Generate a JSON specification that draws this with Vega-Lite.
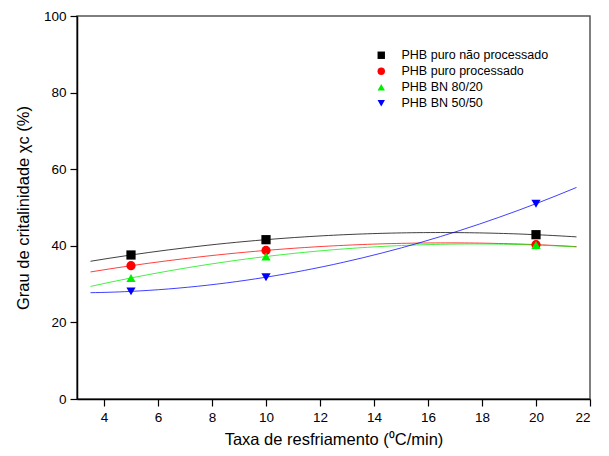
{
  "$schema": "https://vega.github.io/schema/vega-lite/v6.json",
  "width": 513,
  "height": 383,
  "autosize": {"type": "none"},
  "padding": {"left": 77, "top": 16, "right": 19, "bottom": 57},
  "background": "white",
  "config": {
    "view": {"stroke": "#555555", "strokeWidth": 1.5},
    "font": "Liberation Sans"
  },
  "data": {
    "values": [
      {"series": "PHB puro não processado", "x": 5, "y": 37.6},
      {"series": "PHB puro não processado", "x": 10, "y": 41.6},
      {"series": "PHB puro não processado", "x": 20, "y": 42.9},
      {"series": "PHB puro processado", "x": 5, "y": 34.8},
      {"series": "PHB puro processado", "x": 10, "y": 38.8},
      {"series": "PHB puro processado", "x": 20, "y": 40.3},
      {"series": "PHB BN 80/20", "x": 5, "y": 31.6},
      {"series": "PHB BN 80/20", "x": 10, "y": 37.2},
      {"series": "PHB BN 80/20", "x": 20, "y": 40.2},
      {"series": "PHB BN 50/50", "x": 5, "y": 28.1},
      {"series": "PHB BN 50/50", "x": 10, "y": 31.8},
      {"series": "PHB BN 50/50", "x": 20, "y": 51.0}
    ]
  },
  "layer": [
    {
      "transform": [
        {"regression": "y", "on": "x", "groupby": ["series"], "method": "poly", "order": 2, "extent": [3.5, 21.5]}
      ],
      "mark": {"type": "line", "strokeWidth": 1, "strokeOpacity": 0.75},
      "encoding": {
        "x": {"field": "x", "type": "quantitative"},
        "y": {"field": "y", "type": "quantitative"},
        "detail": {"field": "series"},
        "color": {"field": "series", "type": "nominal"}
      }
    },
    {
      "mark": {"type": "point", "filled": true, "opacity": 1, "size": 85},
      "encoding": {
        "x": {
          "field": "x", "type": "quantitative",
          "scale": {"domain": [3, 22], "nice": false, "zero": false},
          "axis": {
            "values": [4,5,6,7,8,9,10,11,12,13,14,15,16,17,18,19,20,21,22],
            "labelExpr": "datum.value % 2 == 0 ? datum.label : ''",
            "tickSize": {"condition": {"test": "datum.value % 2 == 0", "value": 7}, "value": 4},
            "grid": false,
            "domainColor": "black",
            "domainWidth": 1.5,
            "tickColor": "black",
            "tickWidth": 1.2,
            "labelFontSize": 13.5,
            "labelColor": "black",
            "labelPadding": 4,
            "title": "Taxa de resfriamento (⁰C/min)",
            "titleFontSize": 16.5,
            "titleFontWeight": "normal",
            "titleColor": "black",
            "titlePadding": 8
          }
        },
        "y": {
          "field": "y", "type": "quantitative",
          "scale": {"domain": [0, 100], "nice": false},
          "axis": {
            "values": [0,10,20,30,40,50,60,70,80,90,100],
            "labelExpr": "datum.value % 20 == 0 ? datum.label : ''",
            "tickSize": {"condition": {"test": "datum.value % 20 == 0", "value": 7}, "value": 4},
            "grid": false,
            "domainColor": "black",
            "domainWidth": 1.5,
            "tickColor": "black",
            "tickWidth": 1.2,
            "labelFontSize": 13.5,
            "labelColor": "black",
            "labelPadding": 4,
            "title": "Grau de critalinidade χc (%)",
            "titleFontSize": 16.5,
            "titleFontWeight": "normal",
            "titleColor": "black",
            "titlePadding": 12
          }
        },
        "color": {
          "field": "series", "type": "nominal",
          "scale": {
            "domain": ["PHB puro não processado", "PHB puro processado", "PHB BN 80/20", "PHB BN 50/50"],
            "range": ["#000000", "#ff0000", "#00ee00", "#0000ff"]
          },
          "legend": {
            "orient": "none",
            "legendX": 298,
            "legendY": 33,
            "title": null,
            "labelFontSize": 12.5,
            "labelColor": "black",
            "symbolSize": 55,
            "rowPadding": 3,
            "labelOffset": 14,
            "symbolOpacity": 1,
            "symbolStrokeWidth": 0
          }
        },
        "shape": {
          "field": "series", "type": "nominal",
          "scale": {
            "domain": ["PHB puro não processado", "PHB puro processado", "PHB BN 80/20", "PHB BN 50/50"],
            "range": ["square", "circle", "triangle-up", "triangle-down"]
          }
        }
      }
    }
  ]
}
